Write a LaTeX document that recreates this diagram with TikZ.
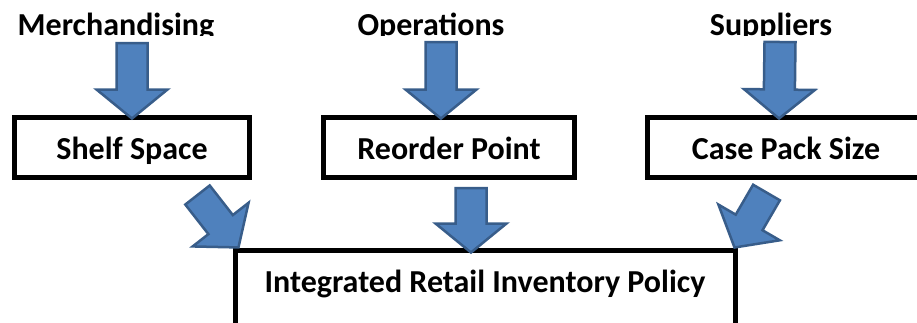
\documentclass[tikz,border=0pt]{standalone}
\usepackage{fontspec}
\setmainfont{Carlito}
\usetikzlibrary{positioning, calc}
\definecolor{arrowfill}{HTML}{4F81BD}
\definecolor{arrowline}{HTML}{385D8A}
\tikzset{
  box/.style={rectangle, draw=black, line width=5pt, minimum height=60pt, text height=25pt, text depth=0pt, inner ysep=17.5pt, inner xsep=0pt, font=\fontsize{32}{38}\selectfont\bfseries},
  source/.style={anchor=base, inner sep=0pt, font=\fontsize{32}{38}\selectfont\bfseries},
  blockbody/.style={fill=arrowfill, draw=arrowline, line width=2.5pt, line join=miter},
  pics/blockarrow/.style={code={
    \path[blockbody] (0pt,-15.5pt) -- ({#1-29pt},-15.5pt) -- ({#1-29pt},-35.5pt) -- ({#1+0pt},0pt)
      -- ({#1-29pt},35.5pt) -- ({#1-29pt},15.5pt) -- (0pt,15.5pt) -- cycle;}}
}
\newcommand{\blockarrow}[2]{%
  \path let \p1=(#1), \p2=(#2), \n1={atan2(\y2-\y1,\x2-\x1)}, \n2={veclen(\x2-\x1,\y2-\y1)}
    in (\p1) pic[rotate=\n1] {blockarrow=\n2};}

\begin{document}
\begin{tikzpicture}[x=1pt, y=-1pt]
\clip (0,0) rectangle (917,322);
\node[box, minimum width=235pt] (shelf) at (132,147) {Shelf Space};
\node[box, minimum width=251pt, right=69pt of shelf] (reorder) {Reorder Point};
\node[box, minimum width=277pt, right=68pt of reorder] (casepack) {Case Pack Size};
\node[box, minimum width=500pt, text depth=80pt, below=68pt of reorder, xshift=36pt] (policy) {Integrated Retail Inventory Policy};
% sources, cut off along their baseline
\begin{scope}
\clip (0,0) rectangle (917,35.5);
\node[source] (merch) at (116,35) {Merchandising};
\node[source] (ops) at (431,35) {Operations};
\node[source] (supp) at (771,35) {Suppliers};
\end{scope}
% block arrows
\blockarrow{$(merch.base -| shelf.north)+(0,8)$}{$(shelf.north)+(0,4)$}
\blockarrow{$(ops.base -| reorder.north)+(-8,7)$}{$(reorder.north)+(-8,4)$}
\blockarrow{$(supp.base -| casepack.north)+(-6,7)$}{$(casepack.north)+(-7,4)$}
\blockarrow{$(shelf.south east)+(-54.5,15.5)$}{$(policy.north west)+(6,0)$}
\blockarrow{$(reorder.south)+(22,8.5)$}{$(policy.north)+(-14,5)$}
\blockarrow{$(casepack.south)+(-19.5,13)$}{$(policy.north east)+(-3,0)$}
\end{tikzpicture}
\end{document}
